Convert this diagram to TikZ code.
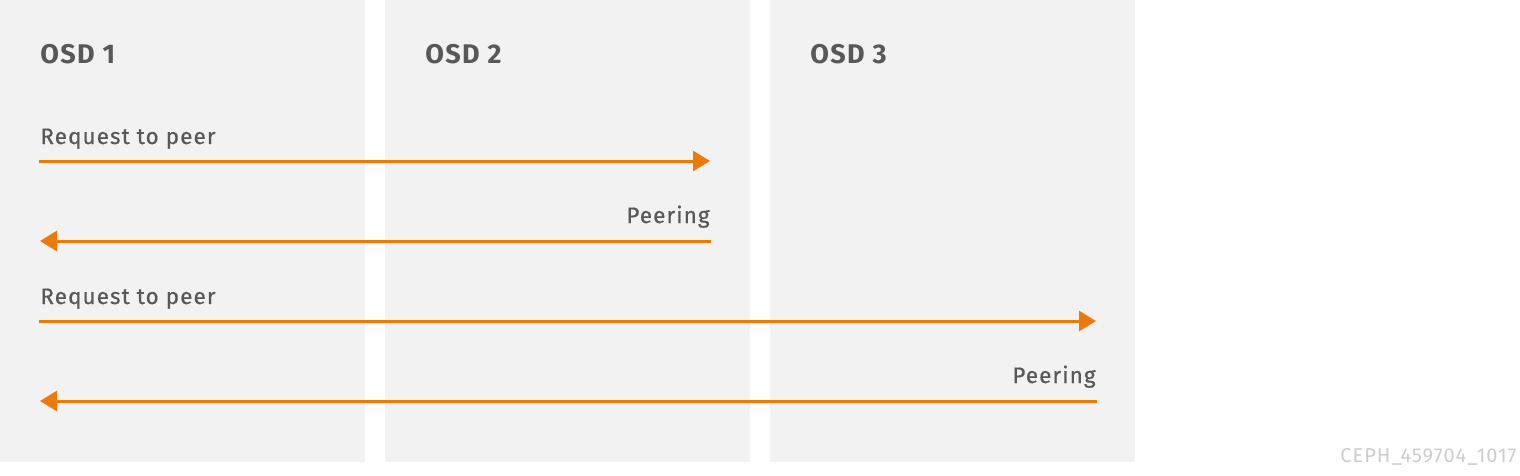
\documentclass[tikz,border=0pt]{standalone}
\usepackage{fontspec}
\setmainfont{Fira Sans}
\usetikzlibrary{arrows.meta}
\definecolor{panelgray}{HTML}{F2F2F2}
\definecolor{textgray}{HTML}{585858}
\definecolor{peerorange}{HTML}{EC7A08}
\definecolor{markgray}{HTML}{CCCCCC}
\begin{document}
\begin{tikzpicture}[x=0.5pt, y=-0.5pt,
                panel/.style={rectangle, fill=panelgray, draw=none, inner sep=0pt,
                minimum width=182.5pt, minimum height=231pt, anchor=north west},
                title/.style={anchor=base west, inner sep=0pt, text=textgray,
                font=\bfseries\fontsize{13.5}{16}\selectfont\addfontfeatures{LetterSpace=5}},
                msg/.style={inner sep=0pt, text=textgray,
                font=\fontsize{11.2}{13}\selectfont\addfontfeatures{LetterSpace=5,FakeBold=0.6}},
                arrow/.style={-{Triangle[length=8.5pt, width=10pt]}, line width=1.5pt, draw=peerorange}
            ]
        \useasboundingbox (0,0) rectangle (1520,476);

        \node[panel] (osd1) at (0,0)   {};
        \node[panel] (osd2) at (385,0) {};
        \node[panel] (osd3) at (770,0) {};

        \node[title] (osd1t) at (40,64)  {OSD 1};
        \node[title] (osd2t) at (425,64) {OSD 2};
        \node[title] (osd3t) at (810,64) {OSD 3};

        \node[msg, anchor=base west] (req2)  at (40,144)  {Request to peer};
        \node[msg, anchor=base east] (peer2) at (710,223) {Peering};
        \node[msg, anchor=base west] (req3)  at (40,304)  {Request to peer};
        \node[msg, anchor=base east] (peer3) at (1096,383) {Peering};

        \coordinate (a1) at (39,161);   \coordinate (b1) at (710,161);
        \coordinate (a2) at (711,241);  \coordinate (b2) at (40,241);
        \coordinate (a3) at (39,321);   \coordinate (b3) at (1096,321);
        \coordinate (a4) at (1097,401); \coordinate (b4) at (40,401);

        \draw[arrow] (a1) -- (b1);
        \draw[arrow] (a2) -- (b2);
        \draw[arrow] (a3) -- (b3);
        \draw[arrow] (a4) -- (b4);

        \node[anchor=base east, inner sep=0pt, text=markgray,
            font=\fontsize{10}{12}\selectfont\addfontfeatures{Weight=Light,LetterSpace=5}]
            (mark) at (1517,462) {CEPH\_459704\_1017};
            \end{tikzpicture}
\end{document}
